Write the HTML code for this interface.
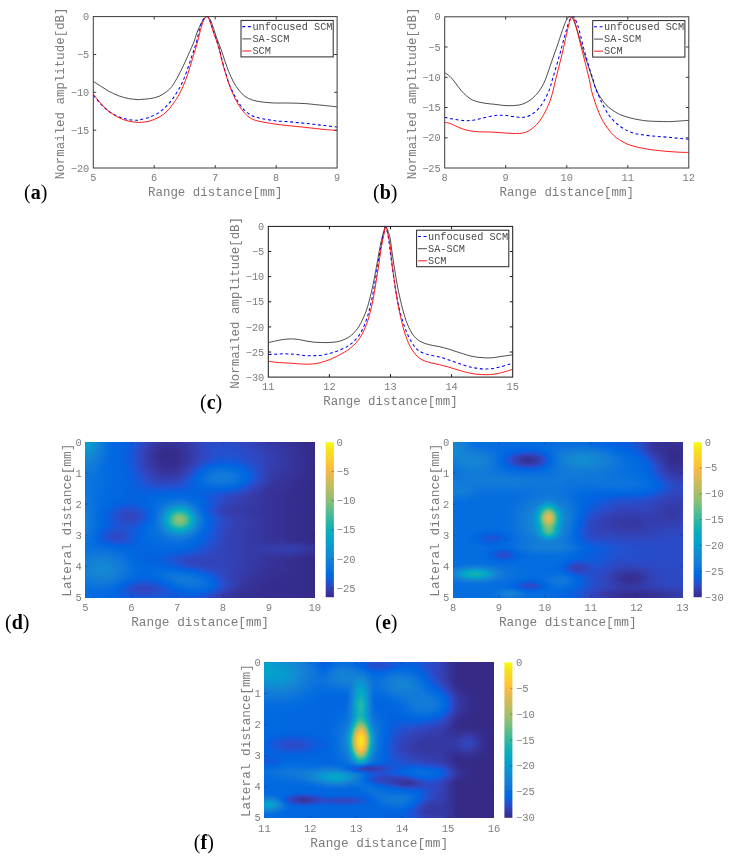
<!DOCTYPE html>
<html lang="en"><head><meta charset="utf-8"><title>Figure</title>
<style>
html,body{margin:0;padding:0;background:#fff;}
body{width:734px;height:862px;overflow:hidden;}
svg{display:block;}
.tk{font-family:"Liberation Mono", "DejaVu Sans Mono", monospace;font-size:10.3px;fill:#7c7c7c;}
.tkh{font-family:"Liberation Mono", "DejaVu Sans Mono", monospace;font-size:10.5px;fill:#7c7c7c;}
.lb{font-family:"Liberation Mono", "DejaVu Sans Mono", monospace;font-size:12.45px;fill:#7c7c7c;}
.lbh{font-family:"Liberation Mono", "DejaVu Sans Mono", monospace;font-size:12.75px;fill:#7c7c7c;}
.lg{font-family:"Liberation Mono", "DejaVu Sans Mono", monospace;font-size:10.27px;fill:#4a4a4a;}
.pl{font-family:"Liberation Serif", "DejaVu Serif", serif;font-size:20px;fill:#000;}
.pl .b{font-weight:bold;}
.ax{fill:none;stroke:#3a3a3a;stroke-width:1;}
.t{stroke:#3a3a3a;stroke-width:1;fill:none;}
</style></head><body>
<svg width="734" height="862" viewBox="0 0 734 862">
<defs>
<linearGradient id="cb" x1="0" y1="0" x2="0" y2="1"><stop offset="0.0000" stop-color="#f9fb0e"/><stop offset="0.0476" stop-color="#f5e41d"/><stop offset="0.0952" stop-color="#fad32a"/><stop offset="0.1429" stop-color="#ffc337"/><stop offset="0.1905" stop-color="#f1b94a"/><stop offset="0.2381" stop-color="#d9ba56"/><stop offset="0.2857" stop-color="#c0bc60"/><stop offset="0.3333" stop-color="#a5be6b"/><stop offset="0.3810" stop-color="#87bf77"/><stop offset="0.4286" stop-color="#65be86"/><stop offset="0.4762" stop-color="#42bb98"/><stop offset="0.5238" stop-color="#25b5a9"/><stop offset="0.5714" stop-color="#0faeb9"/><stop offset="0.6190" stop-color="#06a7c6"/><stop offset="0.6667" stop-color="#079ccf"/><stop offset="0.7143" stop-color="#108ed2"/><stop offset="0.7619" stop-color="#1481d6"/><stop offset="0.8095" stop-color="#0d75dc"/><stop offset="0.8571" stop-color="#0268e1"/><stop offset="0.9048" stop-color="#2053d4"/><stop offset="0.9524" stop-color="#353dad"/><stop offset="1.0000" stop-color="#352a87"/></linearGradient>
<radialGradient id="gw"><stop offset="0.0" stop-color="#fff" stop-opacity="1.000"/><stop offset="0.1" stop-color="#fff" stop-opacity="0.966"/><stop offset="0.2" stop-color="#fff" stop-opacity="0.869"/><stop offset="0.3" stop-color="#fff" stop-opacity="0.728"/><stop offset="0.4" stop-color="#fff" stop-opacity="0.568"/><stop offset="0.5" stop-color="#fff" stop-opacity="0.409"/><stop offset="0.6" stop-color="#fff" stop-opacity="0.271"/><stop offset="0.7" stop-color="#fff" stop-opacity="0.162"/><stop offset="0.8" stop-color="#fff" stop-opacity="0.084"/><stop offset="0.9" stop-color="#fff" stop-opacity="0.032"/><stop offset="1.0" stop-color="#fff" stop-opacity="0.000"/></radialGradient>
<radialGradient id="gk"><stop offset="0.0" stop-color="#000" stop-opacity="1.000"/><stop offset="0.1" stop-color="#000" stop-opacity="0.966"/><stop offset="0.2" stop-color="#000" stop-opacity="0.869"/><stop offset="0.3" stop-color="#000" stop-opacity="0.728"/><stop offset="0.4" stop-color="#000" stop-opacity="0.568"/><stop offset="0.5" stop-color="#000" stop-opacity="0.409"/><stop offset="0.6" stop-color="#000" stop-opacity="0.271"/><stop offset="0.7" stop-color="#000" stop-opacity="0.162"/><stop offset="0.8" stop-color="#000" stop-opacity="0.084"/><stop offset="0.9" stop-color="#000" stop-opacity="0.032"/><stop offset="1.0" stop-color="#000" stop-opacity="0.000"/></radialGradient>
<filter id="cmd" filterUnits="userSpaceOnUse" x="85.4" y="442.2" width="229.4" height="155" color-interpolation-filters="sRGB">
<feComponentTransfer><feFuncR type="table" tableValues="0.208 0.212 0.212 0.208 0.196 0.171 0.125 0.059 0.012 0.006 0.017 0.033 0.050 0.063 0.072 0.078 0.079 0.075 0.064 0.049 0.034 0.026 0.024 0.023 0.023 0.027 0.038 0.059 0.084 0.113 0.145 0.180 0.218 0.259 0.302 0.348 0.395 0.442 0.487 0.530 0.571 0.610 0.647 0.683 0.718 0.752 0.786 0.819 0.851 0.882 0.914 0.945 0.974 0.994 0.999 0.996 0.988 0.979 0.970 0.963 0.959 0.960 0.966 0.976"/><feFuncG type="table" tableValues="0.166 0.190 0.214 0.239 0.265 0.292 0.324 0.360 0.388 0.409 0.427 0.443 0.459 0.474 0.489 0.504 0.520 0.537 0.557 0.577 0.597 0.614 0.629 0.642 0.653 0.664 0.674 0.684 0.693 0.702 0.710 0.718 0.725 0.732 0.738 0.742 0.746 0.748 0.749 0.749 0.749 0.747 0.746 0.744 0.741 0.738 0.736 0.733 0.730 0.727 0.726 0.726 0.731 0.746 0.765 0.786 0.807 0.827 0.848 0.871 0.895 0.922 0.951 0.983"/><feFuncB type="table" tableValues="0.529 0.578 0.627 0.677 0.728 0.779 0.830 0.868 0.882 0.883 0.879 0.872 0.864 0.855 0.847 0.838 0.831 0.826 0.824 0.823 0.820 0.814 0.804 0.791 0.777 0.761 0.744 0.725 0.706 0.686 0.665 0.642 0.619 0.595 0.571 0.547 0.524 0.503 0.484 0.466 0.449 0.434 0.419 0.404 0.391 0.377 0.363 0.350 0.336 0.322 0.306 0.289 0.267 0.240 0.216 0.197 0.179 0.163 0.147 0.131 0.113 0.095 0.075 0.054"/></feComponentTransfer></filter>
<filter id="cme" filterUnits="userSpaceOnUse" x="453.1" y="442.2" width="229.4" height="155" color-interpolation-filters="sRGB">
<feComponentTransfer><feFuncR type="table" tableValues="0.208 0.212 0.212 0.208 0.196 0.171 0.125 0.059 0.012 0.006 0.017 0.033 0.050 0.063 0.072 0.078 0.079 0.075 0.064 0.049 0.034 0.026 0.024 0.023 0.023 0.027 0.038 0.059 0.084 0.113 0.145 0.180 0.218 0.259 0.302 0.348 0.395 0.442 0.487 0.530 0.571 0.610 0.647 0.683 0.718 0.752 0.786 0.819 0.851 0.882 0.914 0.945 0.974 0.994 0.999 0.996 0.988 0.979 0.970 0.963 0.959 0.960 0.966 0.976"/><feFuncG type="table" tableValues="0.166 0.190 0.214 0.239 0.265 0.292 0.324 0.360 0.388 0.409 0.427 0.443 0.459 0.474 0.489 0.504 0.520 0.537 0.557 0.577 0.597 0.614 0.629 0.642 0.653 0.664 0.674 0.684 0.693 0.702 0.710 0.718 0.725 0.732 0.738 0.742 0.746 0.748 0.749 0.749 0.749 0.747 0.746 0.744 0.741 0.738 0.736 0.733 0.730 0.727 0.726 0.726 0.731 0.746 0.765 0.786 0.807 0.827 0.848 0.871 0.895 0.922 0.951 0.983"/><feFuncB type="table" tableValues="0.529 0.578 0.627 0.677 0.728 0.779 0.830 0.868 0.882 0.883 0.879 0.872 0.864 0.855 0.847 0.838 0.831 0.826 0.824 0.823 0.820 0.814 0.804 0.791 0.777 0.761 0.744 0.725 0.706 0.686 0.665 0.642 0.619 0.595 0.571 0.547 0.524 0.503 0.484 0.466 0.449 0.434 0.419 0.404 0.391 0.377 0.363 0.350 0.336 0.322 0.306 0.289 0.267 0.240 0.216 0.197 0.179 0.163 0.147 0.131 0.113 0.095 0.075 0.054"/></feComponentTransfer></filter>
<filter id="cmf" filterUnits="userSpaceOnUse" x="264.4" y="662.4" width="229.6" height="155.4" color-interpolation-filters="sRGB">
<feComponentTransfer><feFuncR type="table" tableValues="0.208 0.212 0.212 0.208 0.196 0.171 0.125 0.059 0.012 0.006 0.017 0.033 0.050 0.063 0.072 0.078 0.079 0.075 0.064 0.049 0.034 0.026 0.024 0.023 0.023 0.027 0.038 0.059 0.084 0.113 0.145 0.180 0.218 0.259 0.302 0.348 0.395 0.442 0.487 0.530 0.571 0.610 0.647 0.683 0.718 0.752 0.786 0.819 0.851 0.882 0.914 0.945 0.974 0.994 0.999 0.996 0.988 0.979 0.970 0.963 0.959 0.960 0.966 0.976"/><feFuncG type="table" tableValues="0.166 0.190 0.214 0.239 0.265 0.292 0.324 0.360 0.388 0.409 0.427 0.443 0.459 0.474 0.489 0.504 0.520 0.537 0.557 0.577 0.597 0.614 0.629 0.642 0.653 0.664 0.674 0.684 0.693 0.702 0.710 0.718 0.725 0.732 0.738 0.742 0.746 0.748 0.749 0.749 0.749 0.747 0.746 0.744 0.741 0.738 0.736 0.733 0.730 0.727 0.726 0.726 0.731 0.746 0.765 0.786 0.807 0.827 0.848 0.871 0.895 0.922 0.951 0.983"/><feFuncB type="table" tableValues="0.529 0.578 0.627 0.677 0.728 0.779 0.830 0.868 0.882 0.883 0.879 0.872 0.864 0.855 0.847 0.838 0.831 0.826 0.824 0.823 0.820 0.814 0.804 0.791 0.777 0.761 0.744 0.725 0.706 0.686 0.665 0.642 0.619 0.595 0.571 0.547 0.524 0.503 0.484 0.466 0.449 0.434 0.419 0.404 0.391 0.377 0.363 0.350 0.336 0.322 0.306 0.289 0.267 0.240 0.216 0.197 0.179 0.163 0.147 0.131 0.113 0.095 0.075 0.054"/></feComponentTransfer></filter>
</defs>
<rect width="734" height="862" fill="#fff"/>
<g>
<clipPath id="cla"><rect x="93.3" y="15.6" width="243.8" height="152.4"/></clipPath>
<g clip-path="url(#cla)" fill="none" stroke-linejoin="round">
<path d="M93.3 81.4C94.6 82.3 98.8 84.9 101.5 86.6C104.1 88.2 106.3 89.8 109.1 91.4C112 92.9 115.5 94.6 118.7 95.8C121.9 97 125.1 97.8 128.3 98.5C131.5 99.1 135.9 99.4 137.9 99.6C139.8 99.8 138.1 99.7 140 99.5C141.9 99.3 146.3 99.2 149.5 98.7C152.7 98.2 156.2 97.5 159.1 96.3C162 95.1 164.5 93.2 166.7 91.5C168.9 89.8 170.5 88.3 172.4 85.8C174.3 83.2 176.3 79.4 178.1 76.2C179.8 73 181.3 70 182.9 66.7C184.5 63.4 186.3 59.4 187.7 56.2C189.1 53 190.3 50.3 191.5 47.6C192.7 44.9 193.6 42.8 194.6 40C195.6 37.2 196.6 33.5 197.6 31C198.6 28.5 199.4 26.8 200.3 25C201.2 23.2 202.1 21.5 202.9 20.2C203.8 18.9 204.7 17.9 205.4 17.3C206.1 16.7 206.4 16.6 206.9 16.6C207.4 16.6 207.9 16.7 208.6 17.4C209.3 18.1 210.1 19 210.9 20.9C211.7 22.8 212.6 25.5 213.6 28.5C214.6 31.5 215.8 35.5 217 39C218.2 42.5 219.8 45.8 221.1 49.5C222.4 53.2 223.6 57.3 224.9 61C226.2 64.7 227.3 68 228.7 71.5C230.1 75 231.8 78.8 233.5 82C235.2 85.2 237.3 88.1 239.2 90.5C241.1 92.9 242.7 94.7 244.9 96.3C247.1 97.9 249.6 99.1 252.5 100.1C255.4 101 259 101.5 262.1 102C265.2 102.5 268.5 102.6 271 102.8C273.5 103 274.4 103 277 103C279.6 103.1 283.4 103 286.6 103C289.8 103.1 293 103.1 296.2 103.2C299.3 103.3 302.5 103.4 305.7 103.6C308.9 103.8 312.1 104.3 315.3 104.6C318.5 104.9 321.2 105.2 324.9 105.5C328.5 105.9 335.2 106.7 337.3 106.9" stroke="#111" stroke-width="0.75"/>
<path d="M93.3 95.2C94.6 96.8 98.8 102.1 101.5 104.8C104.1 107.5 106.3 109.5 109.1 111.5C112 113.5 115.5 115.5 118.7 116.8C121.9 118.2 125.1 118.9 128.3 119.5C131.5 120.1 135.9 120.3 137.9 120.3C139.8 120.3 138.1 120.2 140 119.7C141.9 119.2 146.3 118.4 149.5 117.2C152.7 116 156.2 114.4 159.1 112.5C162 110.6 164.5 108 166.7 105.8C168.9 103.6 170.5 101.6 172.4 99.1C174.3 96.5 176.3 93.5 178.1 90.5C179.8 87.5 181.3 84.7 182.9 81C184.5 77.3 186.3 72.6 187.7 68.6C189.1 64.6 190.4 60.5 191.5 57.2C192.6 53.9 193.5 51.5 194.4 48.6C195.3 45.7 196.2 43.2 197 40C197.8 36.8 198.6 32.6 199.4 29.6C200.2 26.6 201.1 24 201.9 22C202.8 20 203.7 18.7 204.5 17.8C205.3 16.9 206.3 16.6 207 16.6C207.7 16.6 207.9 16.3 208.6 17.6C209.3 18.9 210.3 21.6 211.2 24.2C212.1 26.8 213 30.3 213.9 32.9C214.8 35.5 215.7 37.2 216.6 40C217.5 42.8 218.6 46 219.5 49.5C220.4 53 221.2 56.9 222.3 61C223.4 65.1 224.8 70.2 226.1 74.3C227.4 78.4 228.3 82 229.9 85.8C231.5 89.6 233.7 94 235.4 97.2C237.1 100.4 238.3 102.4 240.1 104.8C241.8 107.2 243.8 109.7 245.9 111.5C248 113.3 250.1 114.8 252.5 115.9C254.9 117 257.3 117.5 260.2 118.2C263.1 118.9 266.9 119.4 269.7 119.9C272.5 120.4 274.2 120.8 277 121C279.8 121.3 283.4 121.4 286.6 121.6C289.8 121.8 293 122.1 296.2 122.4C299.3 122.7 302.5 123 305.7 123.3C308.9 123.7 312.1 124.1 315.3 124.5C318.5 124.9 321.2 125.2 324.9 125.6C328.5 126.1 335.2 126.8 337.3 127" stroke="#0000f0" stroke-width="1.05" stroke-dasharray="3 2.6"/>
<path d="M93.3 94.2C94.6 95.9 98.8 101.3 101.5 104.2C104.1 107.1 106.3 109.2 109.1 111.5C112 113.7 115.5 116 118.7 117.6C121.9 119.2 125.1 120.2 128.3 121C131.5 121.8 135.9 122.2 137.9 122.4C139.8 122.6 138.1 122.6 140 122.4C141.9 122.2 146.3 122 149.5 121.1C152.7 120.2 156.2 118.8 159.1 117.2C162 115.6 164.5 113.6 166.7 111.5C168.9 109.4 170.5 107.3 172.4 104.8C174.3 102.3 176.3 99.3 178.1 96.3C179.8 93.3 181.3 90.4 182.9 86.7C184.5 83 186.3 78.4 187.7 74.3C189.1 70.2 190.2 66 191.5 61.9C192.8 57.8 194.2 53.1 195.3 49.5C196.4 45.9 197.2 43.1 198 40C198.8 36.9 199.5 33.7 200.3 30.7C201.1 27.7 202.1 24.2 202.9 22C203.8 19.8 204.7 18.3 205.4 17.4C206.1 16.5 206.4 16.6 206.9 16.6C207.4 16.6 207.6 16.3 208.3 17.6C209 18.9 210 21.6 210.9 24.2C211.8 26.8 212.7 30.3 213.6 32.9C214.5 35.5 215.4 37.2 216.3 40C217.2 42.8 218.2 46 219.2 49.5C220.1 53 220.9 56.9 222 61C223.1 65.1 224.5 70.2 225.8 74.3C227.1 78.4 228.2 82 229.6 85.8C231 89.6 232.8 93.9 234.4 97.2C236 100.5 237.4 103.1 239.2 105.8C240.9 108.5 243 111.3 244.9 113.4C246.8 115.5 248.4 116.9 250.6 118.2C252.8 119.5 255.1 120.3 258.3 121.1C261.5 121.9 266.6 122.7 269.7 123.2C272.8 123.7 274.2 123.9 277 124.3C279.8 124.7 283.4 125.1 286.6 125.5C289.8 125.8 293 126.1 296.2 126.4C299.3 126.7 302.5 127 305.7 127.4C308.9 127.7 312.1 128.2 315.3 128.5C318.5 128.9 321.2 129.1 324.9 129.5C328.5 129.8 335.2 130.4 337.3 130.6" stroke="#f00" stroke-width="0.9"/>
</g>
<rect class="ax" style="stroke:#3a3a3a" x="93.3" y="16.6" width="243.8" height="151.4"/>
<text class="tk" x="93.3" y="180.6" text-anchor="middle">5</text>
<text class="tk" x="154.2" y="180.6" text-anchor="middle">6</text>
<text class="tk" x="215.2" y="180.6" text-anchor="middle">7</text>
<text class="tk" x="276.2" y="180.6" text-anchor="middle">8</text>
<text class="tk" x="337.1" y="180.6" text-anchor="middle">9</text>
<text class="tk" x="89.3" y="20.2" text-anchor="end">0</text>
<text class="tk" x="89.3" y="58.1" text-anchor="end">−5</text>
<text class="tk" x="89.3" y="95.9" text-anchor="end">−10</text>
<text class="tk" x="89.3" y="133.8" text-anchor="end">−15</text>
<text class="tk" x="89.3" y="171.6" text-anchor="end">−20</text>
<path class="t" style="stroke:#3a3a3a" d="M154.2 168v-2.9 M154.2 16.6v2.9M215.2 168v-2.9 M215.2 16.6v2.9M276.2 168v-2.9 M276.2 16.6v2.9M93.3 54.5h2.9 M337.1 54.5h-2.9M93.3 92.3h2.9 M337.1 92.3h-2.9M93.3 130.2h2.9 M337.1 130.2h-2.9"/>
<text class="lb" x="215.2" y="195.9" text-anchor="middle">Range distance[mm]</text>
<text class="lb" transform="translate(64.1 93.3) rotate(-90)" text-anchor="middle">Normailed amplitude[dB]</text>
<rect x="241" y="20.4" width="92.2" height="36.5" fill="#fff" stroke="#262626" stroke-width="1"/>
<path d="M242.3 26.6H251.3" fill="none" stroke="#0000f0" stroke-width="1.05" stroke-dasharray="3 2.6"/>
<text class="lg" x="252.4" y="29.8">unfocused SCM</text>
<path d="M242.3 38.9H251.3" fill="none" stroke="#111" stroke-width="0.75"/>
<text class="lg" x="252.4" y="42.1">SA-SCM</text>
<path d="M242.3 51H251.3" fill="none" stroke="#f00" stroke-width="0.9"/>
<text class="lg" x="252.4" y="54.2">SCM</text>
</g>
<g>
<clipPath id="clb"><rect x="444.7" y="15.8" width="244.1" height="152.2"/></clipPath>
<g clip-path="url(#clb)" fill="none" stroke-linejoin="round">
<path d="M444.6 72.6C445.4 73.2 447.8 74.4 449.6 76.1C451.4 77.7 453.4 80.4 455.3 82.8C457.2 85.1 459.1 88.2 461.1 90.4C463 92.6 464.9 94.6 466.8 96.2C468.7 97.8 470.6 99 472.5 100C474.5 100.9 476.1 101.3 478.3 101.9C480.5 102.5 483.4 103 486 103.4C488.5 103.8 491.1 103.9 493.6 104.2C496.2 104.5 498.7 104.9 501.3 105.2C503.8 105.4 506.4 105.7 508.9 105.7C511.5 105.8 514.4 105.6 516.6 105.3C518.8 105.1 520.4 104.8 522.3 104.2C524.2 103.6 526.2 102.7 528.1 101.5C530 100.3 531.9 99 533.8 97.1C535.7 95.3 537.6 93.3 539.6 90.4C541.5 87.5 543.3 84.7 545.3 79.8C547.3 74.9 549.6 67.4 551.8 61.2C554 55 556.3 48.5 558.3 42.7C560.3 36.9 562.3 30.3 563.8 26.3C565.3 22.3 566.2 20.3 567.1 18.7C568 17.1 568.5 17.2 569 16.9C569.5 16.6 569.8 16.7 570.3 16.8C570.8 16.9 571.3 16.6 572 17.6C572.7 18.7 573.7 20.6 574.7 23.1C575.7 25.7 576.9 29.4 578 32.9C579.1 36.3 580.1 40.2 581.2 43.8C582.3 47.4 583.2 50.7 584.5 54.7C585.8 58.7 587.5 63.6 588.9 67.8C590.3 72 591.4 76.1 592.7 79.8C594 83.5 595.2 87.1 596.5 90C597.7 92.9 598.7 94.7 600.3 97.1C601.9 99.6 604.1 102.7 606 104.8C608 106.8 609.5 108 611.8 109.6C614 111.2 616.6 113 619.4 114.3C622.3 115.7 625.8 116.7 629 117.6C632.2 118.5 635.4 119.1 638.6 119.7C641.8 120.3 645 120.8 648.2 121C651.3 121.3 654.5 121.3 657.7 121.4C660.9 121.5 664.1 121.7 667.3 121.6C670.5 121.6 673.2 121.5 676.9 121.2C680.5 121 687.2 120.4 689.3 120.3" stroke="#111" stroke-width="0.75"/>
<path d="M444.6 117.2C445.7 117.5 449.1 118.3 451.5 118.7C453.9 119.2 456.6 119.8 459.1 120.1C461.7 120.4 464.3 120.7 466.8 120.7C469.4 120.6 471.9 120.3 474.5 119.9C477 119.5 479.6 118.7 482.1 118.2C484.7 117.6 487.2 116.9 489.8 116.5C492.3 116 494.9 115.5 497.4 115.3C500 115.1 502.5 115.1 505.1 115.3C507.6 115.5 510.2 116.1 512.8 116.5C515.3 116.8 518.2 117.3 520.4 117.4C522.6 117.5 524.2 117.3 526.2 116.8C528.1 116.3 530 115.6 531.9 114.3C533.8 113.1 535.7 111.6 537.6 109.6C539.6 107.5 541.5 105.1 543.4 101.9C545.3 98.7 547.6 94.1 549.1 90.4C550.6 86.7 551.1 83.8 552.3 79.8C553.5 75.8 554.9 71.1 556.2 66.7C557.5 62.3 558.8 57.8 560 53.6C561.2 49.4 562.1 45.6 563.2 41.6C564.3 37.6 565.5 33.1 566.5 29.6C567.5 26.2 568.4 22.9 569.2 20.9C570.1 18.8 571 18 571.6 17.3C572.2 16.6 572.5 16.8 573 16.8C573.5 16.9 573.8 16 574.6 17.6C575.4 19.2 577 23.2 578 26.3C579 29.4 579.8 32.7 580.7 36.2C581.6 39.7 582.4 43.3 583.4 47.1C584.4 50.9 585.6 55.2 586.7 59C587.8 62.8 588.8 66.4 589.9 69.9C591 73.4 592.3 76.7 593.2 79.8C594.1 82.9 594.5 85.6 595.5 88.5C596.6 91.4 598.1 94.4 599.3 97.1C600.5 99.8 601.4 101.9 602.9 104.8C604.4 107.6 606.5 111.6 608.3 114.3C610.1 117.1 612 119.1 613.8 121C615.7 123 617.2 124.2 619.4 125.8C621.7 127.4 624.5 129.3 627.1 130.6C629.6 131.9 632.2 132.8 634.8 133.5C637.3 134.2 639.5 134.4 642.4 134.8C645.3 135.2 648.8 135.7 652 136C655.2 136.3 658.4 136.5 661.6 136.7C664.8 137 667.9 137.2 671.1 137.5C674.3 137.8 677.7 138.2 680.7 138.5C683.7 138.8 687.9 139.1 689.3 139.2" stroke="#0000f0" stroke-width="1.05" stroke-dasharray="3 2.6"/>
<path d="M444.6 122.4C445.4 122.5 447.8 122.8 449.6 123.3C451.4 123.9 453.4 125 455.3 125.8C457.2 126.7 459.1 127.6 461.1 128.3C463 129.1 464.9 129.8 466.8 130.2C468.7 130.7 470.6 130.9 472.5 131.2C474.5 131.4 476.1 131.6 478.3 131.8C480.5 131.9 483.4 131.9 486 132C488.5 132 491.1 132 493.6 132.2C496.2 132.3 498.7 132.5 501.3 132.7C503.8 132.9 506.4 133.2 508.9 133.3C511.5 133.4 514.4 133.5 516.6 133.5C518.8 133.5 520.4 133.5 522.3 133.1C524.2 132.7 526.2 132.2 528.1 131.2C530 130.2 531.9 128.9 533.8 127.2C535.7 125.5 537.6 123.7 539.6 121C541.5 118.4 543.4 115.3 545.3 111.5C547.2 107.6 549.3 103.4 551 98.1C552.8 92.8 554.3 85 555.6 79.8C556.9 74.6 557.8 71.1 558.9 66.7C560 62.3 561.2 57.8 562.2 53.6C563.2 49.4 564 45.6 564.9 41.6C565.8 37.6 566.8 33.1 567.6 29.6C568.4 26.2 569.2 22.9 569.8 20.9C570.4 18.9 570.6 17.9 571.2 17.4C571.8 16.9 572.7 16.5 573.5 17.8C574.3 19.1 575 22.2 575.8 25.3C576.6 28.4 577.6 32.6 578.5 36.2C579.4 39.8 580.3 43.5 581.2 47.1C582.1 50.7 583.1 54.4 584 58C584.9 61.6 585.8 65.3 586.7 68.9C587.6 72.5 588.6 76.1 589.4 79.8C590.2 83.5 590.7 87.5 591.7 91.4C592.7 95.2 594.1 99.3 595.3 102.9C596.5 106.4 597.6 109.6 598.8 112.4C600 115.3 600.8 117.4 602.4 120.1C603.9 122.8 606.1 126.2 608 128.7C609.8 131.3 611.8 133.6 613.7 135.4C615.6 137.3 617.2 138.4 619.4 139.8C621.7 141.2 624.5 142.9 627.1 144C629.6 145.1 632.2 145.8 634.8 146.5C637.3 147.2 639.5 147.7 642.4 148.2C645.3 148.8 648.8 149.3 652 149.8C655.2 150.2 658.4 150.6 661.6 150.9C664.8 151.2 667.9 151.5 671.1 151.7C674.3 151.9 677.7 152.1 680.7 152.3C683.7 152.4 687.9 152.4 689.3 152.4" stroke="#f00" stroke-width="0.9"/>
</g>
<rect class="ax" style="stroke:#3a3a3a" x="444.7" y="16.8" width="244.1" height="151.2"/>
<text class="tk" x="444.7" y="180.6" text-anchor="middle">8</text>
<text class="tk" x="505.7" y="180.6" text-anchor="middle">9</text>
<text class="tk" x="566.8" y="180.6" text-anchor="middle">10</text>
<text class="tk" x="627.8" y="180.6" text-anchor="middle">11</text>
<text class="tk" x="688.8" y="180.6" text-anchor="middle">12</text>
<text class="tk" x="440.7" y="20.4" text-anchor="end">0</text>
<text class="tk" x="440.7" y="50.6" text-anchor="end">−5</text>
<text class="tk" x="440.7" y="80.9" text-anchor="end">−10</text>
<text class="tk" x="440.7" y="111.1" text-anchor="end">−15</text>
<text class="tk" x="440.7" y="141.4" text-anchor="end">−20</text>
<text class="tk" x="440.7" y="171.6" text-anchor="end">−25</text>
<path class="t" style="stroke:#3a3a3a" d="M505.7 168v-2.9 M505.7 16.8v2.9M566.8 168v-2.9 M566.8 16.8v2.9M627.8 168v-2.9 M627.8 16.8v2.9M444.7 47h2.9 M688.8 47h-2.9M444.7 77.3h2.9 M688.8 77.3h-2.9M444.7 107.5h2.9 M688.8 107.5h-2.9M444.7 137.8h2.9 M688.8 137.8h-2.9"/>
<text class="lb" x="566.8" y="195.9" text-anchor="middle">Range distance[mm]</text>
<text class="lb" transform="translate(415.5 93.4) rotate(-90)" text-anchor="middle">Normailed amplitude[dB]</text>
<rect x="592.7" y="20.6" width="92.2" height="36.5" fill="#fff" stroke="#262626" stroke-width="1"/>
<path d="M594 26.8H603" fill="none" stroke="#0000f0" stroke-width="1.05" stroke-dasharray="3 2.6"/>
<text class="lg" x="604.1" y="30">unfocused SCM</text>
<path d="M594 39.1H603" fill="none" stroke="#111" stroke-width="0.75"/>
<text class="lg" x="604.1" y="42.3">SA-SCM</text>
<path d="M594 51.2H603" fill="none" stroke="#f00" stroke-width="0.9"/>
<text class="lg" x="604.1" y="54.4">SCM</text>
</g>
<g>
<clipPath id="clc"><rect x="268.3" y="225.4" width="244.4" height="151.7"/></clipPath>
<g clip-path="url(#clc)" fill="none" stroke-linejoin="round">
<path d="M268.6 342.5C269.7 342.3 273.1 341.5 275.5 341C277.9 340.5 280.6 339.8 283.1 339.5C285.7 339.1 288.3 338.9 290.8 338.9C293.4 338.9 295.9 339.1 298.5 339.5C301 339.8 303.6 340.6 306.1 341C308.7 341.4 311.2 341.9 313.8 342.2C316.3 342.4 318.9 342.5 321.4 342.5C324 342.6 326.5 342.7 329.1 342.5C331.6 342.4 334.5 342.2 336.8 341.8C339 341.4 340.6 341 342.6 340.2C344.6 339.5 346.6 338.5 348.7 337.2C350.7 335.8 352.7 334.3 354.7 332C356.7 329.7 358.8 327.1 360.7 323.4C362.7 319.7 364.9 314.5 366.5 310C368.1 305.5 369 301.7 370.3 296.6C371.6 291.5 372.9 285.7 374.1 279.4C375.4 273 376.8 264.4 378 258.3C379.1 252.2 379.9 247.4 380.8 243C381.8 238.5 382.8 234.2 383.7 231.5C384.6 228.8 385 225.7 386 226.7C387 227.7 388.9 233.2 389.9 237.2C390.9 241.2 391 245.2 391.8 250.6C392.6 256.1 393.7 263.7 394.7 269.8C395.7 275.8 396.5 281.3 397.6 287C398.7 292.8 400.2 299.1 401.4 304.2C402.7 309.3 403.9 313.8 405.1 317.6C406.3 321.5 407.5 324.5 408.7 327.2C409.9 329.9 411.1 332.1 412.3 333.9C413.6 335.8 414.8 337.1 416 338.3C417.2 339.5 418.1 340.1 419.6 341C421.1 341.9 423 342.8 425.1 343.5C427.2 344.2 429.9 344.9 432.4 345.4C434.8 345.9 437.1 346.2 439.6 346.7C442.1 347.3 444.7 347.9 447.3 348.7C449.8 349.4 452.4 350.3 454.9 351.2C457.5 352 460 352.8 462.6 353.6C465.1 354.4 467.7 355.3 470.2 355.9C472.8 356.5 475.3 357 477.9 357.3C480.5 357.6 483 357.8 485.6 357.9C488.1 357.9 490.7 357.9 493.2 357.7C495.8 357.4 498.3 356.9 500.9 356.5C503.4 356.1 506.5 355.7 508.5 355.4C510.6 355.1 512.5 354.9 513.3 354.8" stroke="#111" stroke-width="0.75"/>
<path d="M268.6 354.6C269.7 354.5 273.1 354.3 275.5 354.2C277.9 354.1 280.6 353.9 283.1 353.8C285.7 353.8 288.3 353.9 290.8 354C293.4 354.2 295.9 354.5 298.5 354.8C301 355 303.6 355.4 306.1 355.6C308.7 355.7 311.2 355.8 313.8 355.7C316.3 355.7 318.9 355.5 321.4 355.2C324 354.8 326.5 354.3 329.1 353.6C331.6 353 334.2 352.1 336.8 351.2C339.3 350.2 342.3 349.1 344.6 347.9C347 346.7 348.7 345.7 350.7 344.1C352.7 342.5 354.9 340.5 356.7 338.3C358.5 336.2 360.1 334.2 361.7 331C363.3 327.9 365 323.7 366.5 319.6C367.9 315.4 369 311.6 370.3 306.2C371.6 300.7 372.9 294 374.1 287C375.4 280 376.8 270.7 378 264C379.1 257.3 379.9 251.9 380.8 246.8C381.8 241.7 382.8 236.7 383.7 233.4C384.6 230.1 385.1 225.6 386 226.9C386.9 228.2 388.1 236.1 388.9 241.1C389.7 246 390 250.3 390.8 256.4C391.6 262.4 392.7 270.9 393.7 277.4C394.7 284 395.4 289.6 396.6 295.6C397.7 301.7 399.2 308.6 400.6 313.8C401.9 319.1 403.4 323.4 404.8 327.2C406.1 331 407.4 334.1 408.7 336.8C410 339.5 411.1 341.6 412.3 343.5C413.6 345.4 414.8 347 416 348.3C417.2 349.6 418.1 350.3 419.6 351.2C421.1 352 423 352.9 425.1 353.6C427.2 354.4 429.9 355 432.4 355.6C434.8 356.1 437.1 356.4 439.6 357.1C442.1 357.7 444.7 358.6 447.3 359.4C449.8 360.2 452.4 361.2 454.9 362.1C457.5 363 460 363.9 462.6 364.7C465.1 365.6 467.7 366.4 470.2 367C472.8 367.6 475.3 368.1 477.9 368.4C480.5 368.7 483 369 485.6 369C488.1 369 490.7 368.8 493.2 368.4C495.8 368 498.3 367.3 500.9 366.7C503.4 366 506.5 365.1 508.5 364.6C510.6 364 512.5 363.4 513.3 363.2" stroke="#0000f0" stroke-width="1.05" stroke-dasharray="3 2.6"/>
<path d="M268.6 361.3C269.7 361.5 273.1 362 275.5 362.3C277.9 362.5 280.6 362.7 283.1 362.8C285.7 363 288.3 363.1 290.8 363.2C293.4 363.4 295.9 363.6 298.5 363.8C301 363.9 303.6 364.2 306.1 364.2C308.7 364.2 311.2 364.1 313.8 363.8C316.3 363.5 318.9 363.1 321.4 362.4C324 361.8 326.5 360.8 329.1 359.8C331.6 358.7 334.2 357.6 336.8 356.3C339.3 355 342.3 353.5 344.6 352.1C347 350.7 348.7 349.6 350.7 347.9C352.7 346.2 354.9 344.3 356.7 342.2C358.5 340 360.1 337.8 361.7 334.9C363.3 331.9 365 328.2 366.5 324.3C367.9 320.5 369 317 370.3 311.9C371.6 306.8 372.9 300.7 374.1 293.7C375.4 286.7 376.8 277 378 269.8C379.1 262.6 379.9 256.4 380.8 250.6C381.8 244.9 382.8 239.2 383.7 235.3C384.6 231.4 385 225.6 386 227.1C387 228.5 388.9 238.3 389.9 243.9C390.9 249.6 391 254.6 391.8 261.2C392.6 267.7 393.7 276.3 394.7 283.2C395.7 290 396.5 296.1 397.6 302.3C398.7 308.6 400.2 315.3 401.4 320.5C402.7 325.8 403.9 330.1 405.1 333.9C406.3 337.7 407.5 340.8 408.7 343.5C409.9 346.2 411.1 348.3 412.3 350.2C413.6 352.1 414.8 353.6 416 355C417.2 356.3 418.1 357.2 419.6 358.2C421.1 359.3 423 360.3 425.1 361.1C427.2 361.9 429.9 362.6 432.4 363.2C434.8 363.8 437.1 364.2 439.6 364.7C442.1 365.3 444.7 366 447.3 366.7C449.8 367.4 452.4 368.2 454.9 369C457.5 369.7 460 370.6 462.6 371.3C465.1 372 467.7 372.7 470.2 373.2C472.8 373.7 475.3 374.1 477.9 374.3C480.5 374.6 483 374.7 485.6 374.7C488.1 374.7 490.7 374.6 493.2 374.3C495.8 374 498.3 373.4 500.9 372.8C503.4 372.2 506.5 371.3 508.5 370.7C510.6 370 512.5 369.2 513.3 369" stroke="#f00" stroke-width="0.9"/>
</g>
<rect class="ax" style="stroke:#161616" x="268.3" y="226.4" width="244.4" height="150.7"/>
<text class="tk" x="268.3" y="389.7" text-anchor="middle">11</text>
<text class="tk" x="329.4" y="389.7" text-anchor="middle">12</text>
<text class="tk" x="390.5" y="389.7" text-anchor="middle">13</text>
<text class="tk" x="451.6" y="389.7" text-anchor="middle">14</text>
<text class="tk" x="512.7" y="389.7" text-anchor="middle">15</text>
<text class="tk" x="264.3" y="230" text-anchor="end">0</text>
<text class="tk" x="264.3" y="255.1" text-anchor="end">−5</text>
<text class="tk" x="264.3" y="280.2" text-anchor="end">−10</text>
<text class="tk" x="264.3" y="305.4" text-anchor="end">−15</text>
<text class="tk" x="264.3" y="330.5" text-anchor="end">−20</text>
<text class="tk" x="264.3" y="355.6" text-anchor="end">−25</text>
<text class="tk" x="264.3" y="380.7" text-anchor="end">−30</text>
<path class="t" style="stroke:#161616" d="M329.4 377.1v-2.9 M329.4 226.4v2.9M390.5 377.1v-2.9 M390.5 226.4v2.9M451.6 377.1v-2.9 M451.6 226.4v2.9M268.3 251.5h2.9 M512.7 251.5h-2.9M268.3 276.6h2.9 M512.7 276.6h-2.9M268.3 301.8h2.9 M512.7 301.8h-2.9M268.3 326.9h2.9 M512.7 326.9h-2.9M268.3 352h2.9 M512.7 352h-2.9"/>
<text class="lb" x="390.5" y="405" text-anchor="middle">Range distance[mm]</text>
<text class="lb" transform="translate(239.1 302.8) rotate(-90)" text-anchor="middle">Normailed amplitude[dB]</text>
<rect x="416.6" y="230.2" width="92.2" height="36.5" fill="#fff" stroke="#262626" stroke-width="1"/>
<path d="M417.9 236.4H426.9" fill="none" stroke="#0000f0" stroke-width="1.05" stroke-dasharray="3 2.6"/>
<text class="lg" x="428" y="239.6">unfocused SCM</text>
<path d="M417.9 248.7H426.9" fill="none" stroke="#111" stroke-width="0.75"/>
<text class="lg" x="428" y="251.9">SA-SCM</text>
<path d="M417.9 260.8H426.9" fill="none" stroke="#f00" stroke-width="0.9"/>
<text class="lg" x="428" y="264">SCM</text>
</g>
<g>
<g filter="url(#cmd)">
<linearGradient id="bgd" gradientUnits="userSpaceOnUse" x1="85.4" y1="0" x2="314.8" y2="0"><stop offset="0.000" stop-color="#262626"/><stop offset="0.300" stop-color="#202020"/><stop offset="0.500" stop-color="#181818"/><stop offset="0.660" stop-color="#0f0f0f"/><stop offset="0.800" stop-color="#060606"/><stop offset="1.000" stop-color="#000000"/></linearGradient>
<rect x="80.4" y="437.2" width="239.4" height="165" fill="url(#bgd)"/>
<ellipse cx="85.4" cy="442.2" rx="29.8" ry="36.3" fill="url(#gw)" opacity="0.200"/>
<ellipse cx="90" cy="473.2" rx="29.8" ry="80.6" fill="url(#gw)" opacity="0.050"/>
<ellipse cx="85.4" cy="522.8" rx="17.9" ry="40.3" fill="url(#gw)" opacity="0.070"/>
<ellipse cx="168" cy="456.1" rx="50.1" ry="44.3" fill="url(#gk)" opacity="0.950"/>
<ellipse cx="172.6" cy="460.8" rx="62" ry="68.5" fill="url(#gk)" opacity="0.500"/>
<ellipse cx="223" cy="478.2" rx="53.7" ry="22.6" fill="url(#gw)" opacity="0.150"/>
<ellipse cx="250.6" cy="460.8" rx="83.5" ry="40.3" fill="url(#gw)" opacity="0.040"/>
<ellipse cx="179.9" cy="519.7" rx="54.9" ry="48.4" fill="url(#gw)" opacity="0.160"/>
<ellipse cx="179.9" cy="519.7" rx="26.2" ry="21.8" fill="url(#gw)" opacity="0.520"/>
<ellipse cx="130.4" cy="516.6" rx="42.9" ry="21.8" fill="url(#gk)" opacity="0.500"/>
<ellipse cx="116.6" cy="536.8" rx="32.2" ry="17.7" fill="url(#gk)" opacity="0.450"/>
<ellipse cx="102.8" cy="569.3" rx="47.7" ry="32.2" fill="url(#gw)" opacity="0.150"/>
<ellipse cx="188.6" cy="580.2" rx="59.6" ry="20.2" fill="url(#gw)" opacity="0.120" transform="rotate(12 188.6 580.2)"/>
<ellipse cx="190.9" cy="561.6" rx="47.7" ry="17.7" fill="url(#gk)" opacity="0.350"/>
<ellipse cx="142.8" cy="589.5" rx="47.7" ry="16.1" fill="url(#gk)" opacity="0.450"/>
<ellipse cx="232.2" cy="510.4" rx="59.6" ry="12.1" fill="url(#gk)" opacity="0.300"/>
<ellipse cx="227.6" cy="544.5" rx="59.6" ry="56.4" fill="url(#gk)" opacity="0.120"/>
<ellipse cx="264.3" cy="589.5" rx="59.6" ry="32.2" fill="url(#gk)" opacity="0.600"/>
<ellipse cx="236.8" cy="597.2" rx="47.7" ry="16.1" fill="url(#gk)" opacity="0.600"/>
<ellipse cx="291.9" cy="549.2" rx="53.7" ry="12.1" fill="url(#gw)" opacity="0.040"/>
</g>
<path d="M131.3 597.2v-2 M131.3 442.2v2M177.2 597.2v-2 M177.2 442.2v2M223 597.2v-2 M223 442.2v2M268.9 597.2v-2 M268.9 442.2v2M85.4 473.2h2 M314.8 473.2h-2M85.4 504.2h2 M314.8 504.2h-2M85.4 535.2h2 M314.8 535.2h-2M85.4 566.2h2 M314.8 566.2h-2" stroke="#1a1a3a" stroke-opacity="0.45" stroke-width="0.8" fill="none"/>
<text class="tkh" x="85.4" y="611.1" text-anchor="middle">5</text>
<text class="tkh" x="131.3" y="611.1" text-anchor="middle">6</text>
<text class="tkh" x="177.2" y="611.1" text-anchor="middle">7</text>
<text class="tkh" x="223" y="611.1" text-anchor="middle">8</text>
<text class="tkh" x="268.9" y="611.1" text-anchor="middle">9</text>
<text class="tkh" x="314.8" y="611.1" text-anchor="middle">10</text>
<text class="tkh" x="81.7" y="445.6" text-anchor="end">0</text>
<text class="tkh" x="81.7" y="476.6" text-anchor="end">1</text>
<text class="tkh" x="81.7" y="507.6" text-anchor="end">2</text>
<text class="tkh" x="81.7" y="538.6" text-anchor="end">3</text>
<text class="tkh" x="81.7" y="569.6" text-anchor="end">4</text>
<text class="tkh" x="81.7" y="600.6" text-anchor="end">5</text>
<text class="lbh" x="200.1" y="625.9" text-anchor="middle">Range distance[mm]</text>
<text class="lbh" transform="translate(70.9 520.2) rotate(-90)" text-anchor="middle">Lateral distance[mm]</text>
<rect x="325.7" y="442.2" width="8.2" height="155" fill="url(#cb)"/>
<text class="tkh" x="336.6" y="445.6">0</text>
<text class="tkh" x="336.6" y="474.8">−5</text>
<path d="M333.9 471.4h-2" stroke="#222" stroke-opacity="0.5" stroke-width="0.8"/>
<text class="tkh" x="336.6" y="504.1">−10</text>
<path d="M333.9 500.7h-2" stroke="#222" stroke-opacity="0.5" stroke-width="0.8"/>
<text class="tkh" x="336.6" y="533.3">−15</text>
<path d="M333.9 529.9h-2" stroke="#222" stroke-opacity="0.5" stroke-width="0.8"/>
<text class="tkh" x="336.6" y="562.6">−20</text>
<path d="M333.9 559.2h-2" stroke="#222" stroke-opacity="0.5" stroke-width="0.8"/>
<text class="tkh" x="336.6" y="591.8">−25</text>
<path d="M333.9 588.4h-2" stroke="#222" stroke-opacity="0.5" stroke-width="0.8"/>
</g>
<g>
<g filter="url(#cme)">
<linearGradient id="bge" gradientUnits="userSpaceOnUse" x1="453.1" y1="0" x2="682.5" y2="0"><stop offset="0.000" stop-color="#2a2a2a"/><stop offset="0.480" stop-color="#282828"/><stop offset="0.600" stop-color="#1f1f1f"/><stop offset="0.720" stop-color="#171717"/><stop offset="1.000" stop-color="#141414"/></linearGradient>
<rect x="448.1" y="437.2" width="239.4" height="165" fill="url(#bge)"/>
<ellipse cx="455.4" cy="446.8" rx="23.9" ry="24.2" fill="url(#gw)" opacity="0.120"/>
<ellipse cx="476" cy="461.4" rx="41.8" ry="20.2" fill="url(#gw)" opacity="0.120"/>
<ellipse cx="499" cy="480.9" rx="131.2" ry="17.7" fill="url(#gw)" opacity="0.070"/>
<ellipse cx="457.7" cy="491.8" rx="29.8" ry="12.1" fill="url(#gw)" opacity="0.070"/>
<ellipse cx="554" cy="547.6" rx="83.5" ry="9.7" fill="url(#gw)" opacity="0.050"/>
<ellipse cx="530.2" cy="460.2" rx="38.2" ry="12.9" fill="url(#gk)" opacity="0.900"/>
<ellipse cx="530.2" cy="460.8" rx="59.6" ry="24.2" fill="url(#gk)" opacity="0.300"/>
<ellipse cx="581.6" cy="459.2" rx="53.7" ry="20.2" fill="url(#gw)" opacity="0.120"/>
<ellipse cx="609.1" cy="467" rx="95.4" ry="40.3" fill="url(#gw)" opacity="0.100"/>
<ellipse cx="632" cy="485.6" rx="71.6" ry="17.7" fill="url(#gw)" opacity="0.070"/>
<ellipse cx="675.6" cy="456.1" rx="35.8" ry="48.4" fill="url(#gk)" opacity="0.970"/>
<ellipse cx="657.3" cy="445.3" rx="29.8" ry="24.2" fill="url(#gk)" opacity="0.700"/>
<ellipse cx="548.5" cy="521.2" rx="47.7" ry="41.9" fill="url(#gw)" opacity="0.200"/>
<ellipse cx="548.5" cy="518.1" rx="16.1" ry="20.2" fill="url(#gw)" opacity="0.700"/>
<ellipse cx="548.5" cy="532.1" rx="15.5" ry="11.3" fill="url(#gw)" opacity="0.300"/>
<ellipse cx="474.7" cy="574" rx="33.4" ry="10.5" fill="url(#gw)" opacity="0.300"/>
<ellipse cx="480.6" cy="574" rx="59.6" ry="16.1" fill="url(#gw)" opacity="0.060"/>
<ellipse cx="503.6" cy="554.7" rx="26.2" ry="12.1" fill="url(#gk)" opacity="0.500"/>
<ellipse cx="492.1" cy="538.3" rx="29.8" ry="12.1" fill="url(#gk)" opacity="0.400"/>
<ellipse cx="529.7" cy="585.7" rx="29.8" ry="9.7" fill="url(#gk)" opacity="0.500"/>
<ellipse cx="627.4" cy="522.8" rx="71.6" ry="28.2" fill="url(#gk)" opacity="0.600"/>
<ellipse cx="673.3" cy="510.4" rx="35.8" ry="28.2" fill="url(#gk)" opacity="0.500"/>
<ellipse cx="590.7" cy="532.1" rx="35.8" ry="32.2" fill="url(#gk)" opacity="0.300"/>
<ellipse cx="618.3" cy="578.6" rx="83.5" ry="28.2" fill="url(#gk)" opacity="0.400"/>
<ellipse cx="577" cy="567.8" rx="23.9" ry="12.1" fill="url(#gk)" opacity="0.550"/>
<ellipse cx="630.7" cy="578.6" rx="29.8" ry="16.1" fill="url(#gk)" opacity="0.800"/>
<ellipse cx="636.6" cy="595.7" rx="95.4" ry="14.5" fill="url(#gk)" opacity="0.900"/>
<ellipse cx="510" cy="594.1" rx="23.9" ry="8.1" fill="url(#gw)" opacity="0.100"/>
<ellipse cx="562.3" cy="580.8" rx="29.8" ry="12.1" fill="url(#gw)" opacity="0.070"/>
</g>
<path d="M499 597.2v-2 M499 442.2v2M544.9 597.2v-2 M544.9 442.2v2M590.7 597.2v-2 M590.7 442.2v2M636.6 597.2v-2 M636.6 442.2v2M453.1 473.2h2 M682.5 473.2h-2M453.1 504.2h2 M682.5 504.2h-2M453.1 535.2h2 M682.5 535.2h-2M453.1 566.2h2 M682.5 566.2h-2" stroke="#1a1a3a" stroke-opacity="0.45" stroke-width="0.8" fill="none"/>
<text class="tkh" x="453.1" y="611.1" text-anchor="middle">8</text>
<text class="tkh" x="499" y="611.1" text-anchor="middle">9</text>
<text class="tkh" x="544.9" y="611.1" text-anchor="middle">10</text>
<text class="tkh" x="590.7" y="611.1" text-anchor="middle">11</text>
<text class="tkh" x="636.6" y="611.1" text-anchor="middle">12</text>
<text class="tkh" x="682.5" y="611.1" text-anchor="middle">13</text>
<text class="tkh" x="449.4" y="445.6" text-anchor="end">0</text>
<text class="tkh" x="449.4" y="476.6" text-anchor="end">1</text>
<text class="tkh" x="449.4" y="507.6" text-anchor="end">2</text>
<text class="tkh" x="449.4" y="538.6" text-anchor="end">3</text>
<text class="tkh" x="449.4" y="569.6" text-anchor="end">4</text>
<text class="tkh" x="449.4" y="600.6" text-anchor="end">5</text>
<text class="lbh" x="567.8" y="625.9" text-anchor="middle">Range distance[mm]</text>
<text class="lbh" transform="translate(438.6 520.2) rotate(-90)" text-anchor="middle">Lateral distance[mm]</text>
<rect x="693.6" y="442.2" width="8.2" height="155" fill="url(#cb)"/>
<text class="tkh" x="704.8" y="445.6">0</text>
<text class="tkh" x="704.8" y="471.4">−5</text>
<path d="M701.8 468h-2" stroke="#222" stroke-opacity="0.5" stroke-width="0.8"/>
<text class="tkh" x="704.8" y="497.3">−10</text>
<path d="M701.8 493.9h-2" stroke="#222" stroke-opacity="0.5" stroke-width="0.8"/>
<text class="tkh" x="704.8" y="523.1">−15</text>
<path d="M701.8 519.7h-2" stroke="#222" stroke-opacity="0.5" stroke-width="0.8"/>
<text class="tkh" x="704.8" y="548.9">−20</text>
<path d="M701.8 545.5h-2" stroke="#222" stroke-opacity="0.5" stroke-width="0.8"/>
<text class="tkh" x="704.8" y="574.8">−25</text>
<path d="M701.8 571.4h-2" stroke="#222" stroke-opacity="0.5" stroke-width="0.8"/>
<text class="tkh" x="704.8" y="600.6">−30</text>
</g>
<g>
<g filter="url(#cmf)">
<linearGradient id="bgf" gradientUnits="userSpaceOnUse" x1="264.4" y1="0" x2="494" y2="0"><stop offset="0.000" stop-color="#262626"/><stop offset="0.500" stop-color="#222222"/><stop offset="0.660" stop-color="#1c1c1c"/><stop offset="0.770" stop-color="#0f0f0f"/><stop offset="0.840" stop-color="#000000"/><stop offset="1.000" stop-color="#000000"/></linearGradient>
<rect x="259.4" y="657.4" width="239.6" height="165.4" fill="url(#bgf)"/>
<ellipse cx="278.2" cy="673.3" rx="59.7" ry="40.4" fill="url(#gw)" opacity="0.220"/>
<ellipse cx="264.4" cy="665.5" rx="17.9" ry="24.2" fill="url(#gw)" opacity="0.100"/>
<ellipse cx="343.8" cy="676.7" rx="35.8" ry="22.6" fill="url(#gw)" opacity="0.130"/>
<ellipse cx="324.1" cy="664" rx="14.3" ry="20.2" fill="url(#gk)" opacity="0.300"/>
<ellipse cx="379.2" cy="665.5" rx="35.8" ry="12.1" fill="url(#gk)" opacity="0.400"/>
<ellipse cx="402.2" cy="684.2" rx="41.8" ry="24.2" fill="url(#gw)" opacity="0.150"/>
<ellipse cx="429.7" cy="704" rx="47.8" ry="28.3" fill="url(#gw)" opacity="0.150"/>
<ellipse cx="361.8" cy="687.3" rx="17.9" ry="24.2" fill="url(#gw)" opacity="0.140"/>
<ellipse cx="360.4" cy="705.9" rx="15.5" ry="30.7" fill="url(#gw)" opacity="0.380"/>
<ellipse cx="360.8" cy="740.1" rx="35.8" ry="44.4" fill="url(#gw)" opacity="0.200"/>
<ellipse cx="360.8" cy="741" rx="17.9" ry="33.9" fill="url(#gw)" opacity="0.500"/>
<ellipse cx="360.8" cy="741" rx="13.7" ry="29.1" fill="url(#gw)" opacity="0.900"/>
<ellipse cx="292" cy="744.8" rx="53.7" ry="17.8" fill="url(#gk)" opacity="0.450"/>
<ellipse cx="269" cy="761.9" rx="23.9" ry="12.1" fill="url(#gk)" opacity="0.300"/>
<ellipse cx="337.9" cy="776.8" rx="41.8" ry="14.5" fill="url(#gw)" opacity="0.250"/>
<ellipse cx="305.7" cy="774.3" rx="71.6" ry="14.5" fill="url(#gw)" opacity="0.080" transform="rotate(4 305.7 774.3)"/>
<ellipse cx="370" cy="788.3" rx="35.8" ry="12.1" fill="url(#gw)" opacity="0.050" transform="rotate(30 370 788.3)"/>
<ellipse cx="269" cy="804.7" rx="23.9" ry="12.1" fill="url(#gw)" opacity="0.250"/>
<ellipse cx="303" cy="799.8" rx="33.4" ry="9.7" fill="url(#gk)" opacity="0.800"/>
<ellipse cx="342.5" cy="800.7" rx="47.8" ry="8.1" fill="url(#gk)" opacity="0.500"/>
<ellipse cx="367.7" cy="768.7" rx="41.8" ry="8.1" fill="url(#gk)" opacity="0.750"/>
<ellipse cx="407.7" cy="782.4" rx="29.8" ry="11.3" fill="url(#gk)" opacity="0.800"/>
<ellipse cx="383.8" cy="778.9" rx="47.8" ry="11.3" fill="url(#gk)" opacity="0.500"/>
<ellipse cx="428.8" cy="772.7" rx="47.8" ry="13.7" fill="url(#gw)" opacity="0.100"/>
<ellipse cx="399.9" cy="799.5" rx="41.8" ry="16.2" fill="url(#gw)" opacity="0.100"/>
<ellipse cx="429.7" cy="810" rx="29.8" ry="20.2" fill="url(#gk)" opacity="0.600"/>
<ellipse cx="420.5" cy="746.3" rx="59.7" ry="36.4" fill="url(#gk)" opacity="0.650"/>
<ellipse cx="466.9" cy="743.2" rx="26.3" ry="20.2" fill="url(#gw)" opacity="0.070"/>
</g>
<path d="M310.3 817.8v-2 M310.3 662.4v2M356.2 817.8v-2 M356.2 662.4v2M402.2 817.8v-2 M402.2 662.4v2M448.1 817.8v-2 M448.1 662.4v2M264.4 693.5h2 M494 693.5h-2M264.4 724.6h2 M494 724.6h-2M264.4 755.6h2 M494 755.6h-2M264.4 786.7h2 M494 786.7h-2" stroke="#1a1a3a" stroke-opacity="0.45" stroke-width="0.8" fill="none"/>
<text class="tkh" x="264.4" y="831.7" text-anchor="middle">11</text>
<text class="tkh" x="310.3" y="831.7" text-anchor="middle">12</text>
<text class="tkh" x="356.2" y="831.7" text-anchor="middle">13</text>
<text class="tkh" x="402.2" y="831.7" text-anchor="middle">14</text>
<text class="tkh" x="448.1" y="831.7" text-anchor="middle">15</text>
<text class="tkh" x="494" y="831.7" text-anchor="middle">16</text>
<text class="tkh" x="260.7" y="665.8" text-anchor="end">0</text>
<text class="tkh" x="260.7" y="696.9" text-anchor="end">1</text>
<text class="tkh" x="260.7" y="728" text-anchor="end">2</text>
<text class="tkh" x="260.7" y="759" text-anchor="end">3</text>
<text class="tkh" x="260.7" y="790.1" text-anchor="end">4</text>
<text class="tkh" x="260.7" y="821.2" text-anchor="end">5</text>
<text class="lbh" x="379.2" y="846.5" text-anchor="middle">Range distance[mm]</text>
<text class="lbh" transform="translate(249.9 740.6) rotate(-90)" text-anchor="middle">Lateral distance[mm]</text>
<rect x="504.4" y="662.4" width="8" height="155.4" fill="url(#cb)"/>
<text class="tkh" x="516" y="665.8">0</text>
<text class="tkh" x="516" y="691.7">−5</text>
<path d="M512.4 688.3h-2" stroke="#222" stroke-opacity="0.5" stroke-width="0.8"/>
<text class="tkh" x="516" y="717.6">−10</text>
<path d="M512.4 714.2h-2" stroke="#222" stroke-opacity="0.5" stroke-width="0.8"/>
<text class="tkh" x="516" y="743.5">−15</text>
<path d="M512.4 740.1h-2" stroke="#222" stroke-opacity="0.5" stroke-width="0.8"/>
<text class="tkh" x="516" y="769.4">−20</text>
<path d="M512.4 766h-2" stroke="#222" stroke-opacity="0.5" stroke-width="0.8"/>
<text class="tkh" x="516" y="795.3">−25</text>
<path d="M512.4 791.9h-2" stroke="#222" stroke-opacity="0.5" stroke-width="0.8"/>
<text class="tkh" x="516" y="821.2">−30</text>
</g>
<text class="pl" x="24" y="199.3">(<tspan class="b">a</tspan>)</text>
<text class="pl" x="373" y="199.3">(<tspan class="b">b</tspan>)</text>
<text class="pl" x="200" y="408.8">(<tspan class="b">c</tspan>)</text>
<text class="pl" x="5" y="629">(<tspan class="b">d</tspan>)</text>
<text class="pl" x="375.3" y="629">(<tspan class="b">e</tspan>)</text>
<text class="pl" x="193.8" y="849">(<tspan class="b">f</tspan>)</text>
</svg></body></html>
